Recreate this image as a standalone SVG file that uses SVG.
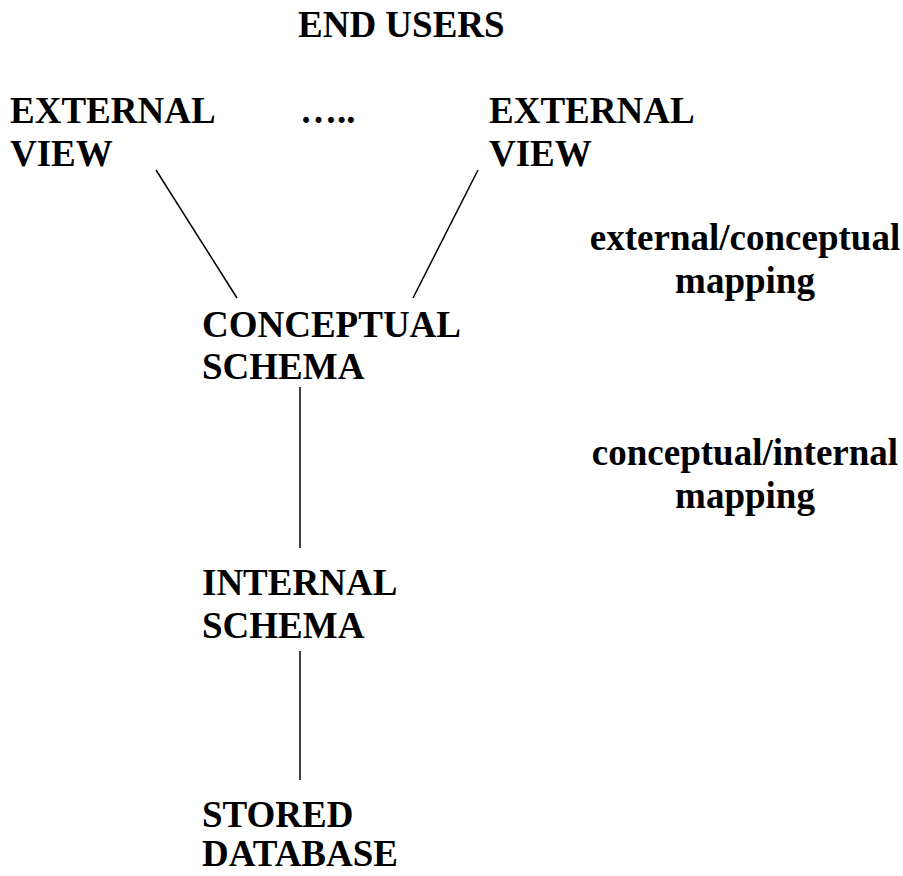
<svg xmlns="http://www.w3.org/2000/svg" width="903" height="876" viewBox="0 0 903 876">
<style>
text{font-family:"Liberation Serif","Times New Roman",serif;font-weight:bold;font-size:37px;fill:#000}
.c{text-anchor:middle}
line{stroke:#000;stroke-width:1.5}
</style>
<rect width="903" height="876" fill="#fff"/>
<g id="end-users"><text x="298" y="37">END USERS</text></g>
<g id="external-view-1"><text x="10" y="123">EXTERNAL</text><text x="10" y="166">VIEW</text></g>
<g id="dots"><text x="300" y="123">…..</text></g>
<g id="external-view-2"><text x="489" y="123">EXTERNAL</text><text x="489" y="166">VIEW</text></g>
<g id="ext-conc-mapping"><text class="c" x="745" y="250">external/conceptual</text><text class="c" x="745" y="293">mapping</text></g>
<g id="conceptual-schema"><text x="202" y="337">CONCEPTUAL</text><text x="202" y="379">SCHEMA</text></g>
<g id="conc-int-mapping"><text class="c" x="745" y="465">conceptual/internal</text><text class="c" x="745" y="508">mapping</text></g>
<g id="internal-schema"><text x="202" y="595">INTERNAL</text><text x="202" y="638">SCHEMA</text></g>
<g id="stored-database"><text x="202" y="827">STORED</text><text x="202" y="866">DATABASE</text></g>
<g id="connectors">
<line x1="156" y1="170" x2="237" y2="298"/>
<line x1="478" y1="170" x2="413" y2="298"/>
<line x1="300" y1="387" x2="300" y2="548"/>
<line x1="300" y1="651" x2="300" y2="780"/>
</g>
</svg>
